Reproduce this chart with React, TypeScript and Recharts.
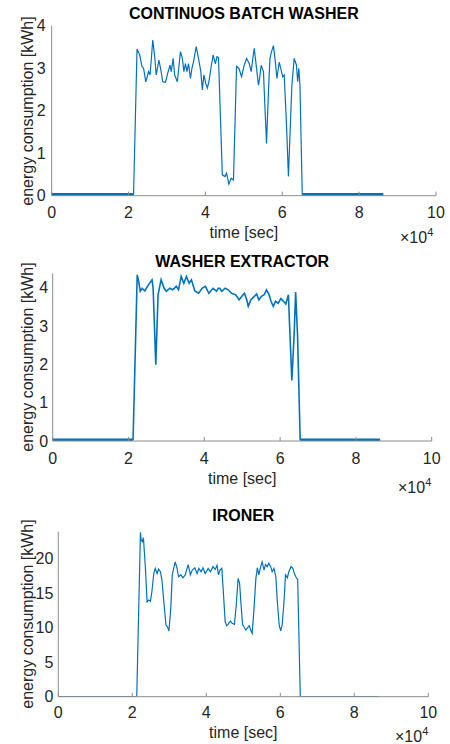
import { LineChart, Line, XAxis, YAxis } from "recharts";

const font = "'Liberation Sans', Arial, Helvetica, sans-serif";
const lineColor = "#0072BD";
const axisColor = "#8c8c8c";
const textColor = "#262626";

// time axis is in units of 1e4 seconds
const xTicks = [0, 2, 4, 6, 8, 10];

// CONTINUOS BATCH WASHER
const batchTime = [
  2.13, 2.22, 2.29, 2.35, 2.39, 2.45, 2.52, 2.56, 2.63, 2.68, 2.72, 2.79, 2.84, 2.89, 2.96,
  3.03, 3.08, 3.11, 3.16, 3.2, 3.27, 3.35, 3.4, 3.44, 3.48, 3.52, 3.56, 3.61, 3.65, 3.69,
  3.76, 3.82, 3.88, 3.92, 3.96, 4.01, 4.05, 4.09, 4.15, 4.2, 4.26, 4.3, 4.34, 4.44, 4.51,
  4.55, 4.61, 4.67, 4.73, 4.81, 4.87, 4.94, 5.01, 5.07, 5.14, 5.19, 5.24, 5.27, 5.33, 5.38,
  5.41, 5.45, 5.51, 5.55, 5.59, 5.64, 5.68, 5.72, 5.77, 5.81, 5.86, 5.92, 5.97, 6.01, 6.05,
  6.11, 6.16, 6.21, 6.25, 6.31, 6.37, 6.4, 6.43, 6.46, 6.52,
];
const batchKwh = [
  0.02, 3.45, 3.31, 3.04, 3.0, 2.68, 2.92, 2.84, 3.66, 3.27, 2.84, 3.19, 2.96, 2.68, 2.67,
  2.92, 3.07, 2.92, 3.23, 2.84, 2.68, 3.39, 3.23, 2.92, 3.11, 2.92, 3.11, 2.76, 3.0, 3.15,
  3.51, 3.23, 2.92, 2.49, 2.84, 2.64, 2.53, 2.68, 3.04, 3.31, 3.1, 3.27, 3.25, 0.49, 0.45,
  0.53, 0.27, 0.41, 0.37, 3.04, 3.0, 2.8, 3.07, 3.23, 3.11, 2.92, 3.27, 3.47, 3.0, 2.6,
  2.76, 3.07, 2.92, 2.06, 1.23, 2.45, 3.23, 3.39, 3.53, 3.23, 2.76, 3.14, 2.96, 2.8, 2.84,
  1.66, 0.45, 1.66, 2.6, 3.23, 3.07, 2.68, 3.0, 2.6, 0.02,
];
const batchIdleTime = [0, 2.13, 4, 6.52, 8.63];
const batchIdleKwh = [0.02, 0.02, null, 0.02, 0.02];

// WASHER EXTRACTOR
const extractorTime = [
  2.12, 2.23, 2.27, 2.31, 2.36, 2.43, 2.5, 2.59, 2.62, 2.65, 2.72, 2.78, 2.86, 2.94, 3.0,
  3.09, 3.17, 3.26, 3.32, 3.39, 3.46, 3.53, 3.6, 3.66, 3.75, 3.85, 3.94, 4.03, 4.12, 4.23,
  4.28, 4.32, 4.37, 4.41, 4.46, 4.55, 4.63, 4.72, 4.83, 4.92, 4.99, 5.06, 5.12, 5.16, 5.23,
  5.32, 5.38, 5.44, 5.51, 5.58, 5.64, 5.71, 5.76, 5.82, 5.88, 5.95, 6.02, 6.09, 6.15, 6.22,
  6.25, 6.31, 6.37, 6.41, 6.46, 6.53,
];
const extractorKwh = [
  0.02, 4.33, 4.16, 3.9, 3.98, 3.91, 4.03, 4.16, 4.2, 3.98, 1.99, 3.81, 4.2, 3.98, 3.9,
  3.98, 3.94, 4.03, 3.94, 4.29, 4.11, 4.29, 4.11, 4.2, 3.91, 3.85, 3.98, 4.03, 3.85, 3.98,
  3.94, 3.9, 3.98, 3.98, 3.9, 3.98, 3.94, 3.85, 3.81, 3.68, 3.77, 3.85, 3.68, 3.51, 3.68,
  3.77, 3.83, 3.68, 3.77, 3.81, 3.94, 3.81, 3.64, 3.51, 3.64, 3.59, 3.71, 3.64, 3.57, 3.81,
  3.03, 1.58, 2.77, 3.88, 2.77, 0.02,
];
const extractorIdleTime = [0, 2.12, 4, 6.53, 8.64];
const extractorIdleKwh = [0.02, 0.02, null, 0.02, 0.02];

// IRONER
const ironerTime = [
  2.12, 2.22, 2.24, 2.27, 2.3, 2.35, 2.4, 2.44, 2.49, 2.53, 2.58, 2.62, 2.67, 2.71, 2.76,
  2.8, 2.86, 2.91, 2.95, 2.99, 3.04, 3.08, 3.13, 3.16, 3.21, 3.25, 3.31, 3.37, 3.43, 3.51,
  3.57, 3.62, 3.69, 3.75, 3.8, 3.86, 3.91, 3.97, 4.05, 4.11, 4.18, 4.24, 4.29, 4.33, 4.37,
  4.42, 4.46, 4.51, 4.55, 4.59, 4.65, 4.7, 4.76, 4.81, 4.86, 4.9, 4.94, 4.98, 5.03, 5.07,
  5.12, 5.16, 5.21, 5.24, 5.29, 5.34, 5.38, 5.42, 5.47, 5.51, 5.56, 5.6, 5.65, 5.69, 5.74,
  5.78, 5.83, 5.88, 5.92, 5.97, 6.01, 6.05, 6.1, 6.14, 6.19, 6.23, 6.29, 6.34, 6.38, 6.42,
  6.47, 6.54,
];
const ironerKwh = [
  0, 23.75, 22.6, 22.4, 23.0, 19.0, 13.7, 13.97, 13.8, 15.2, 17.8, 18.55, 17.8, 18.45, 18.06,
  16.9, 13.25, 10.36, 10.1, 9.5, 12.8, 17.6, 18.8, 19.5, 18.55, 17.34, 17.6, 17.2, 17.6, 19.1,
  17.6, 18.3, 18.64, 17.8, 18.55, 18.06, 18.64, 17.8, 18.55, 18.06, 18.8, 18.4, 19.0, 17.6, 18.3,
  18.55, 15.2, 10.84, 10.26, 10.46, 10.94, 10.6, 10.46, 13.25, 17.1, 16.4, 13.25, 10.46, 9.97, 9.64,
  9.97, 10.26, 9.5, 9.16, 12.77, 17.1, 18.64, 17.6, 18.8, 19.5, 18.3, 19.1, 18.8, 19.3, 18.8,
  18.06, 18.55, 17.34, 13.7, 10.36, 9.5, 10.36, 13.7, 17.6, 17.2, 18.06, 18.8, 18.55, 17.8, 17.34,
  16.9, 0,
];
const ironerIdleTime = [0, 2.12, 4, 6.54, 8.65];
const ironerIdleKwh = [0, 0, null, 0, 0];

const toRows = (t: number[], v: (number | null)[]) => t.map((x, i) => ({ t: x, v: v[i] }));

interface PanelProps {
  title: string;
  top: number;
  height: number;
  left: number;
  right: number;
  plotTop: number;
  plotBottom: number;
  yMax: number;
  yTicks: number[];
  active: { t: number; v: number | null }[];
  idle: { t: number; v: number | null }[];
  lineWidth: number;
  idleWidth: number;
  xTickMargin: number;
  yTickMargin: number;
  titleY: number;
  xLabelY: number;
  expX: number;
  expY: number;
}

function Panel(p: PanelProps) {
  const cx = (p.left + 450 - p.right) / 2;
  const cy = (p.plotTop + p.plotBottom) / 2;
  const tickStyle = { fontSize: 16, fill: textColor, fontFamily: font };
  return (
    <div style={{ position: "absolute", left: 0, top: p.top, width: 450, height: p.height }}>
      <LineChart
        width={450}
        height={p.height}
        margin={{ top: p.plotTop, right: p.right, bottom: p.height - p.plotBottom - 30, left: 0 }}
      >
        <XAxis
          type="number"
          dataKey="t"
          domain={[0, 10]}
          ticks={xTicks}
          height={30}
          tickSize={-4}
          tickMargin={p.xTickMargin}
          tick={tickStyle}
          axisLine={{ stroke: axisColor }}
          tickLine={{ stroke: axisColor }}
          allowDataOverflow
        />
        <YAxis
          type="number"
          domain={[0, p.yMax]}
          ticks={p.yTicks}
          width={p.left}
          tickSize={-4}
          tickMargin={p.yTickMargin}
          tick={tickStyle}
          axisLine={{ stroke: axisColor }}
          tickLine={false}
          allowDataOverflow
        />
        <Line
          data={p.idle}
          dataKey="v"
          stroke={lineColor}
          strokeWidth={p.idleWidth}
          dot={false}
          isAnimationActive={false}
        />
        <Line
          data={p.active}
          dataKey="v"
          stroke={lineColor}
          strokeWidth={p.lineWidth}
          dot={false}
          isAnimationActive={false}
        />
      </LineChart>
      <div
        style={{
          position: "absolute", left: cx, top: p.titleY, transform: "translate(-50%, -50%)",
          fontFamily: font, fontWeight: "bold", fontSize: 16, lineHeight: "16px",
          color: "#000", whiteSpace: "nowrap",
        }}
      >
        {p.title}
      </div>
      <div
        style={{
          position: "absolute", left: cx, top: p.xLabelY, transform: "translate(-50%, -50%)",
          fontFamily: font, fontSize: 16, lineHeight: "16px", color: textColor, whiteSpace: "nowrap",
        }}
      >
        time [sec]
      </div>
      <div
        style={{
          position: "absolute", left: 28, top: cy, transform: "translate(-50%, -50%) rotate(-90deg)",
          fontFamily: font, fontSize: 16, lineHeight: "16px", color: textColor, whiteSpace: "nowrap",
        }}
      >
        energy consumption [kWh]
      </div>
      <div
        style={{
          position: "absolute", left: p.expX, top: p.expY - 8,
          fontFamily: font, fontSize: 16, lineHeight: "16px", color: textColor, whiteSpace: "nowrap",
        }}
      >
        ×10
        <span style={{ fontSize: 11, position: "relative", top: -7 }}>4</span>
      </div>
    </div>
  );
}

export default function App() {
  return (
    <div style={{ position: "absolute", left: 0, top: 0, width: 450, height: 744, background: "#fff" }}>
      <Panel
        title="CONTINUOS BATCH WASHER"
        top={0}
        height={250}
        left={51.7}
        right={14}
        plotTop={25.7}
        plotBottom={195.7}
        yMax={4}
        yTicks={[0, 1, 2, 3, 4]}
        active={toRows(batchTime, batchKwh)}
        idle={toRows(batchIdleTime, batchIdleKwh)}
        lineWidth={1.2}
        idleWidth={3.5}
        xTickMargin={15}
        yTickMargin={10}
        titleY={13.5}
        xLabelY={233}
        expX={400}
        expY={238}
      />
      <Panel
        title="WASHER EXTRACTOR"
        top={250}
        height={240}
        left={52.7}
        right={18.3}
        plotTop={23.3}
        plotBottom={191}
        yMax={4.37}
        yTicks={[0, 1, 2, 3, 4]}
        active={toRows(extractorTime, extractorKwh)}
        idle={toRows(extractorIdleTime, extractorIdleKwh)}
        lineWidth={1.6}
        idleWidth={3.5}
        xTickMargin={15.5}
        yTickMargin={8.5}
        titleY={12.3}
        xLabelY={229.3}
        expX={398}
        expY={238.3}
      />
      <Panel
        title="IRONER"
        top={490}
        height={254}
        left={58.3}
        right={21.7}
        plotTop={41.7}
        plotBottom={206.7}
        yMax={23.85}
        yTicks={[0, 5, 10, 15, 20]}
        active={toRows(ironerTime, ironerKwh)}
        idle={toRows(ironerIdleTime, ironerIdleKwh)}
        lineWidth={1.2}
        idleWidth={1.2}
        xTickMargin={13.5}
        yTickMargin={9}
        titleY={26}
        xLabelY={242.7}
        expX={395}
        expY={246.7}
      />
    </div>
  );
}
